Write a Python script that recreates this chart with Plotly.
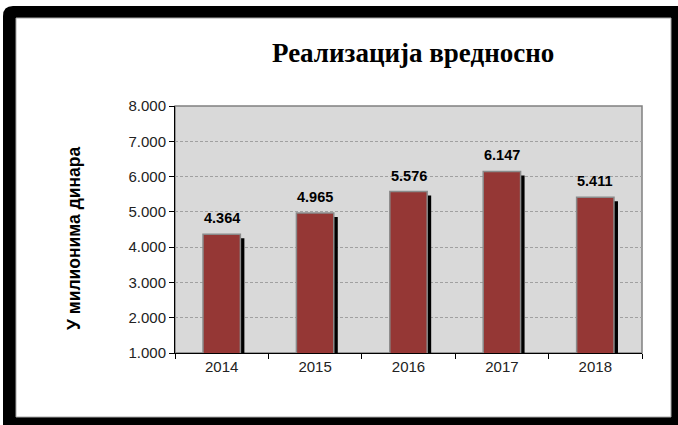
import plotly.graph_objects as go

years = ["2014", "2015", "2016", "2017", "2018"]
values = [4364, 4965, 5576, 6147, 5411]
y_ticks = [1000, 2000, 3000, 4000, 5000, 6000, 7000, 8000]
title_text = "Реализација вредносно"
y_title = "У милионима динара"

W, H = 678, 425
L, T = 175, 106
PW, PH = 467, 247
R, B = W - L - PW, H - T - PH


def px(x):
    return (x - L) / PW


def py(y):
    return (T + PH - y) / PH


bar_w = 0.4
shadow_dx = 4 / (PW / len(years))
shadow_dy = 4 * (y_ticks[-1] - y_ticks[0]) / PH

fig = go.Figure()
fig.add_trace(go.Bar(
    x=years, y=[v - shadow_dy for v in values], width=bar_w,
    offset=-bar_w / 2 + shadow_dx, marker=dict(color="black", line=dict(width=0)),
    hoverinfo="skip", showlegend=False))
fig.add_trace(go.Bar(
    x=years, y=values, width=bar_w, offset=-bar_w / 2,
    marker=dict(color="#953735", line=dict(color="#8a8a8a", width=1.5)),
    showlegend=False))

annotations = []
for i, v in enumerate(values):
    annotations.append(dict(
        x=i, y=v, xref="x", yref="y", text="<b>" + f"{v:,}".replace(",", ".") + "</b>",
        showarrow=False, yanchor="bottom", yshift=6,
        font=dict(family="Liberation Sans, Arial", size=14.5, color="black")))
annotations.append(dict(
    x=px(413), y=py(53), xref="paper", yref="paper", text=f"<b>{title_text}</b>",
    showarrow=False, xanchor="center", yanchor="middle",
    font=dict(family="Liberation Serif, Times New Roman", size=27, color="black")))
annotations.append(dict(
    x=px(74), y=py(238), xref="paper", yref="paper", text=f"<b>{y_title}</b>",
    showarrow=False, xanchor="center", yanchor="middle", textangle=-90,
    font=dict(family="Liberation Sans, Arial", size=17.5, color="black")))

r = 10
x0, y0, x1, y1 = 3, 6, 700, 450
frame_path = (
    f"M {px(x0)},{py(y0 + r)} Q {px(x0)},{py(y0)} {px(x0 + r)},{py(y0)} "
    f"L {px(x1)},{py(y0)} L {px(x1)},{py(y1)} L {px(x0)},{py(y1)} Z")
shapes = [
    dict(type="path", path=frame_path, xref="paper", yref="paper",
         fillcolor="black", line=dict(width=0), layer="below"),
    dict(type="rect", xref="paper", yref="paper", x0=px(16), x1=px(671), y0=py(18), y1=py(417),
         fillcolor="white", line=dict(color="#a8a8a8", width=1), layer="below"),
    dict(type="rect", xref="paper", yref="paper", x0=0, x1=1, y0=0, y1=1,
         fillcolor="#d9d9d9", line=dict(color="#808080", width=1.5), layer="below"),
]

fig.update_layout(
    width=W, height=H, margin=dict(l=L, r=R, t=T, b=B, autoexpand=False),
    paper_bgcolor="white", plot_bgcolor="rgba(0,0,0,0)",
    barmode="overlay", separators=",.",
    annotations=annotations, shapes=shapes,
    font=dict(family="Liberation Sans, Arial", color="#222222"),
)
fig.update_xaxes(
    type="category", range=[-0.5, len(years) - 0.5], tickson="boundaries",
    ticks="outside", ticklen=5, tickcolor="black", showline=True, linecolor="black",
    linewidth=1, showgrid=False, tickfont=dict(size=15, color="#222222"), fixedrange=True)
fig.update_yaxes(
    range=[y_ticks[0], y_ticks[-1]], tickvals=y_ticks, tickformat=",d",
    ticks="outside", ticklen=5, tickcolor="black", showline=True, linecolor="black",
    linewidth=1, showgrid=True, gridcolor="#a0a0a0", griddash="3px,2px", gridwidth=1,
    zeroline=False, tickfont=dict(size=15, color="#222222"), fixedrange=True)

fig.write_html(
    "out.html",
    config={"displayModeBar": False, "staticPlot": True},
    post_script="document.body.style.margin='0';document.body.style.overflow='hidden';",
)
